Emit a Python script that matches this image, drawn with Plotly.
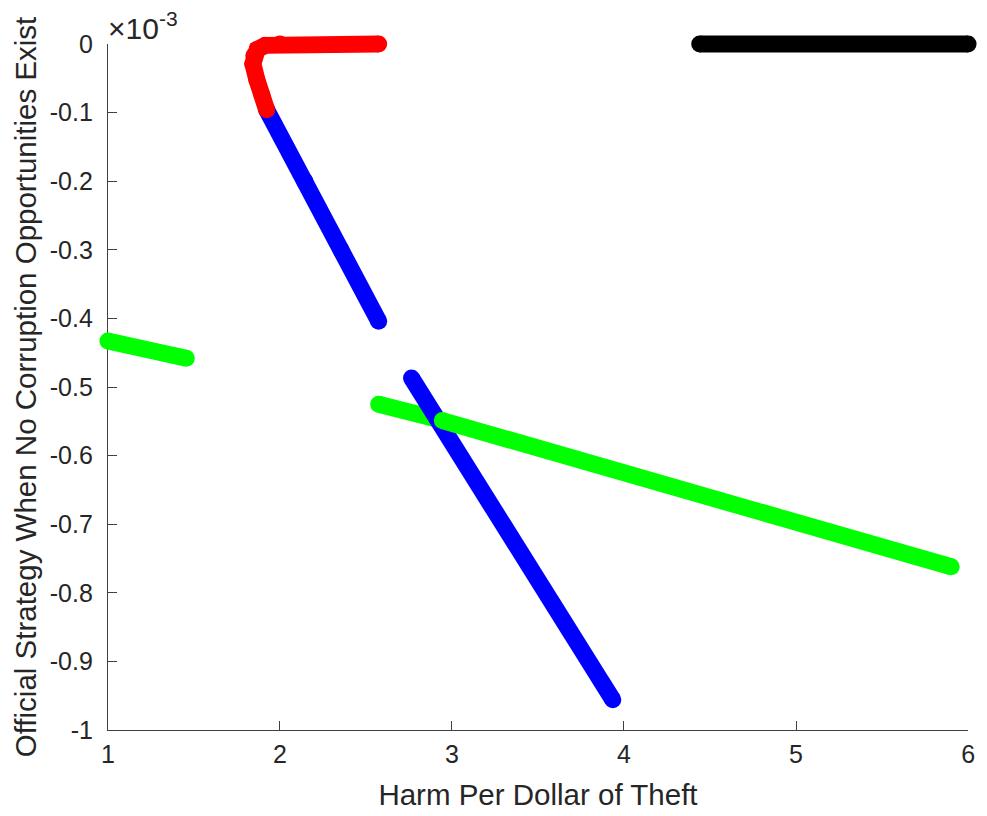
import plotly.graph_objects as go

# y values are in units of 1e-3 (axis shows x10^-3 multiplier)
red_x = [2.574, 2.0, 1.915, 1.868, 1.848, 1.843, 1.866, 1.895, 1.923]
red_y = [0.0, 0.0, -0.002, -0.008, -0.017, -0.029, -0.052, -0.074, -0.096]

blue_up_x = [1.923, 2.145, 2.355, 2.574]
blue_up_y = [-0.096, -0.20, -0.30, -0.404]

blue_low_x = [2.765, 3.935]
blue_low_y = [-0.487, -0.956]

green_left_x = [1.0, 1.456]
green_left_y = [-0.433, -0.458]

green_mid_x = [2.574, 2.90]
green_mid_y = [-0.525, -0.546]

green_right_x = [2.944, 5.902]
green_right_y = [-0.549, -0.762]

black_x = [4.44, 6.0]
black_y = [0.0, 0.0]

xticks = [1, 2, 3, 4, 5, 6]
yticks = [0, -0.1, -0.2, -0.3, -0.4, -0.5, -0.6, -0.7, -0.8, -0.9, -1]
yticktext = ["0", "-0.1", "-0.2", "-0.3", "-0.4", "-0.5", "-0.6", "-0.7", "-0.8", "-0.9", "-1"]

# ---- layout geometry (pixels) ----
FW, FH = 987, 816
ML, MR, MT, MB = 90, 0, 20, 60          # outer area where data traces are drawn
AX_L, AX_R, AX_T, AX_B = 108, 975, 44, 730  # visible axes box
XR = [1, 6]
YR = [-1, 0]

pw = FW - ML - MR
ph = FH - MT - MB
xdom = [(AX_L - ML) / pw, (AX_R - ML) / pw]
ydom = [(MT + ph - AX_B) / ph, (MT + ph - AX_T) / ph]
xs = (AX_R - AX_L) / (XR[1] - XR[0])
ys = (AX_B - AX_T) / (YR[1] - YR[0])
x2r = [XR[0] - (AX_L - ML) / xs, XR[1] + (FW - MR - AX_R) / xs]
y2r = [YR[0] - (MT + ph - AX_B) / ys, YR[1] + (AX_T - MT) / ys]

W = 17
fig = go.Figure()

# empty trace so the visible axes subplot exists
fig.add_trace(go.Scatter(x=[None], y=[None], mode="markers", xaxis="x", yaxis="y",
                         showlegend=False, hoverinfo="skip"))

def add(x, y, color):
    fig.add_trace(go.Scatter(
        x=x, y=y, mode="lines+markers", xaxis="x2", yaxis="y2",
        line=dict(color=color, width=W),
        marker=dict(color=color, size=W, line=dict(width=0)),
        showlegend=False, hoverinfo="skip"))

add(blue_up_x, blue_up_y, "#0000FF")
add(red_x, red_y, "#FF0000")
add(green_left_x, green_left_y, "#00FF00")
add(green_mid_x, green_mid_y, "#00FF00")
add(blue_low_x, blue_low_y, "#0000FF")
add(green_right_x, green_right_y, "#00FF00")
add(black_x, black_y, "#000000")

font = "Liberation Sans, Arial, sans-serif"
axcol = "#404040"
txtcol = "#262626"
fig.update_layout(
    width=FW, height=FH,
    margin=dict(l=ML, r=MR, t=MT, b=MB),
    paper_bgcolor="white", plot_bgcolor="rgba(0,0,0,0)",
    font=dict(family=font, size=25, color=txtcol),
    xaxis=dict(range=XR, domain=xdom, anchor="y", tickvals=xticks, ticks="inside", ticklen=9,
               tickcolor=axcol, showline=True, linecolor=axcol, linewidth=1,
               showgrid=False, zeroline=False, ticklabelstandoff=2,
               tickfont=dict(size=25, color=txtcol),
               title=dict(text="Harm Per Dollar of Theft", font=dict(size=29.5, color=txtcol), standoff=17)),
    yaxis=dict(range=YR, domain=ydom, anchor="x", tickvals=yticks, ticktext=yticktext,
               ticks="inside", ticklen=9,
               tickcolor=axcol, showline=True, linecolor=axcol, linewidth=1,
               showgrid=False, zeroline=False, ticklabelstandoff=9,
               tickfont=dict(size=25, color=txtcol),
               title=dict(text="Official Strategy When No Corruption Opportunities Exist",
                          font=dict(size=29.5, color=txtcol), standoff=4)),
    xaxis2=dict(range=x2r, domain=[0, 1], anchor="y2", visible=False,
                showgrid=False, zeroline=False),
    yaxis2=dict(range=y2r, domain=[0, 1], anchor="x2", visible=False,
                showgrid=False, zeroline=False),
)
fig.add_annotation(text="×10<sup>-3</sup>", xref="x domain", yref="y domain", x=0, y=1,
                   xanchor="left", yanchor="bottom", showarrow=False, yshift=-3, xshift=-2,
                   font=dict(size=30, color=txtcol, family=font))

fig.write_html("out.html")
